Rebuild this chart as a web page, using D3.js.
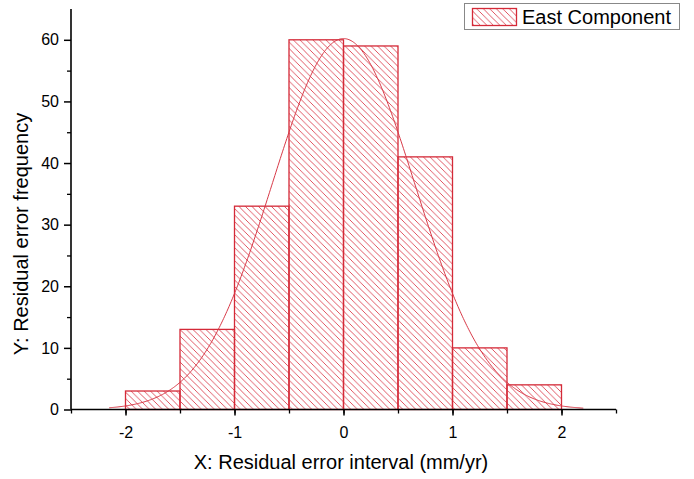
<!DOCTYPE html>
<html><head><meta charset="utf-8">
<script src="https://cdn.jsdelivr.net/npm/d3@7"></script>
<style>body{margin:0;background:#fff}svg{display:block;font-family:"Liberation Sans",Arial,sans-serif}</style>
</head><body><svg id="c" width="694" height="479"></svg>
<script>
const binStarts = [-2, -1.5, -1, -0.5, 0, 0.5, 1, 1.5];
const binWidth = 0.5;
const counts = [3, 13, 33, 60, 59, 41, 10, 4];
const xTicks = [-2, -1, 0, 1, 2];
const yTicks = [0, 10, 20, 30, 40, 50, 60];
const fitMean = 0.0, fitSigma = 0.656, fitPeak = 60.2;
const fitRange = [-2.15, 2.2];
const seriesName = "East Component";

const svg = d3.select("#c");
const x = d3.scaleLinear().domain([-2.5, 2.5]).range([71, 616]);
const y = d3.scaleLinear().domain([0, 65]).range([409.5, 9]);
const red = "#d42a38";
const fnt = "Liberation Sans, Arial, sans-serif";

const defs = svg.append("defs");
const pat = defs.append("pattern").attr("id","hatch").attr("patternUnits","userSpaceOnUse")
  .attr("width",6.5).attr("height",6.5);
pat.append("path").attr("d","M-1,-1 L7.5,7.5 M-1,5.5 L1,7.5 M5.5,-1 L7.5,1")
  .attr("stroke","#dd4453").attr("stroke-width",0.9).attr("fill","none");

// bars
svg.append("g").selectAll("rect").data(binStarts).join("rect")
  .attr("x", d => x(d)).attr("width", d => x(d+binWidth)-x(d))
  .attr("y", (d,i) => y(counts[i])).attr("height", (d,i) => y(0)-y(counts[i]))
  .attr("fill","url(#hatch)").attr("stroke",red).attr("stroke-width",1.3);

// normal curve
const pts = d3.range(fitRange[0], fitRange[1]+0.001, 0.01).map(v => [v, fitPeak*Math.exp(-((v-fitMean)**2)/(2*fitSigma*fitSigma))]);
svg.append("path").datum(pts)
  .attr("d", d3.line().x(d=>x(d[0])).y(d=>y(d[1])).curve(d3.curveBasis))
  .attr("fill","none").attr("stroke","#d83a48").attr("stroke-width",1);

// axes
svg.append("g").attr("transform",`translate(0,${y(0)})`)
  .call(d3.axisBottom(x).tickValues(d3.range(-2.5,2.51,0.5)).tickSize(4).tickFormat(""))
  .call(g => g.select(".domain").remove())
  .call(g => g.selectAll(".tick line").attr("stroke-width",1.3));
svg.append("g").attr("transform",`translate(0,${y(0)})`)
  .call(d3.axisBottom(x).tickValues(xTicks).tickSize(6).tickPadding(11).tickFormat(d => String(d)))
  .call(g => g.select(".domain").attr("d",`M${x(-2.5)},0H${x(2.5)}`).attr("stroke-width",1.6))
  .call(g => g.selectAll(".tick line").attr("stroke-width",1.5))
  .call(g => g.selectAll("text").attr("font-size",16).attr("fill","#000").attr("font-family",fnt));
svg.append("g").attr("transform",`translate(${x(-2.5)},0)`)
  .call(d3.axisLeft(y).tickValues(d3.range(5,65,10)).tickSize(4).tickFormat(""))
  .call(g => g.select(".domain").remove())
  .call(g => g.selectAll(".tick line").attr("stroke-width",1.3));
svg.append("g").attr("transform",`translate(${x(-2.5)},0)`)
  .call(d3.axisLeft(y).tickValues(yTicks).tickSize(7).tickPadding(5).tickFormat(d => String(d)))
  .call(g => g.select(".domain").attr("d",`M0,${y(0)}V${y(65)}`).attr("stroke-width",1.6))
  .call(g => g.selectAll(".tick line").attr("stroke-width",1.5))
  .call(g => g.selectAll("text").attr("font-size",16).attr("fill","#000").attr("font-family",fnt));

// titles
svg.append("text").attr("x",341).attr("y",469).attr("text-anchor","middle")
  .attr("font-size",20).text("X: Residual error interval (mm/yr)");
svg.append("text").attr("transform","translate(28,234) rotate(-90)").attr("text-anchor","middle")
  .attr("font-size",20).text("Y: Residual error frequency");

// legend
const lg = svg.append("g");
lg.append("rect").attr("x",464.5).attr("y",3.5).attr("width",215).attr("height",26)
  .attr("fill","#fff").attr("stroke","#888").attr("stroke-width",1);
lg.append("rect").attr("x",472.5).attr("y",8.5).attr("width",44).attr("height",17)
  .attr("fill","url(#hatch)").attr("stroke",red).attr("stroke-width",1.3);
lg.append("text").attr("x",522).attr("y",24).attr("font-size",20).text(seriesName);
</script></body></html>
